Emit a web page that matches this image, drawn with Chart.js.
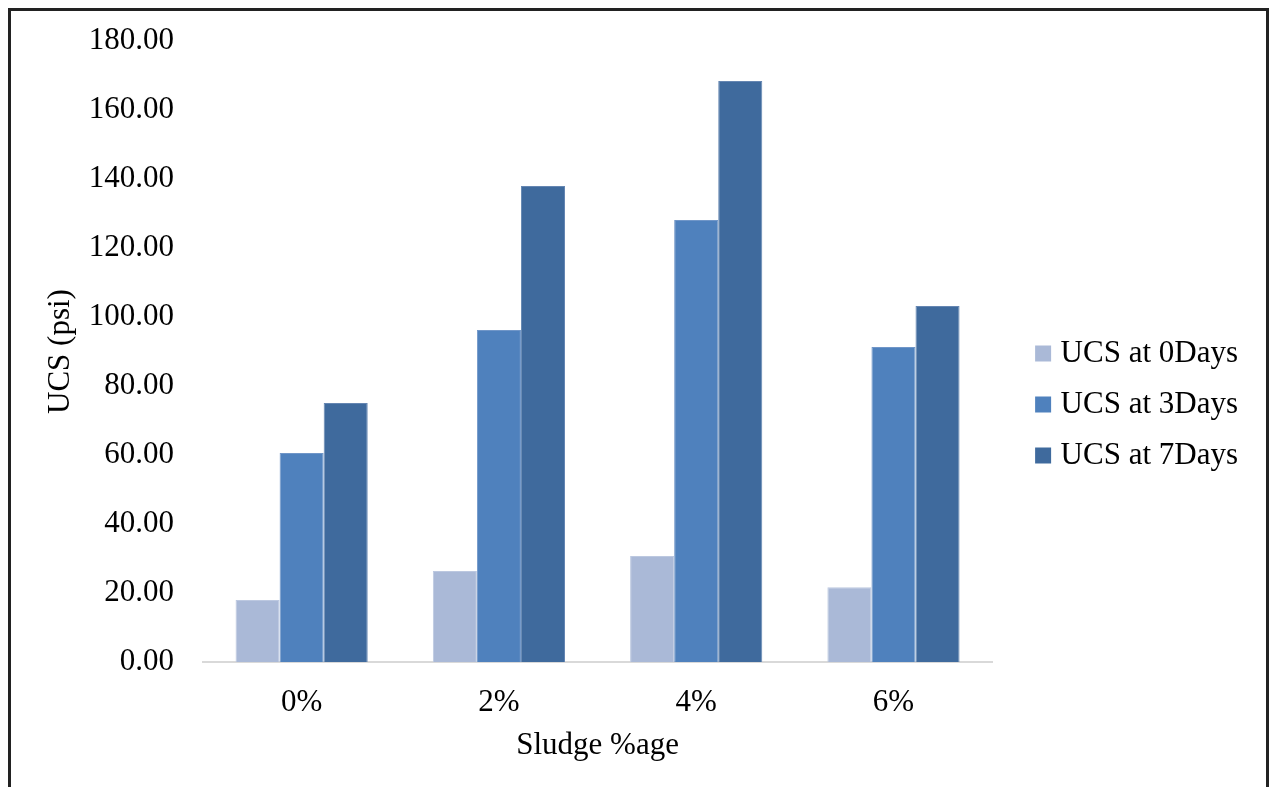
<!DOCTYPE html>
<html>
<head>
<meta charset="utf-8">
<script src="https://cdn.jsdelivr.net/npm/chart.js@4/dist/chart.umd.min.js"></script>
<style>
  html, body { margin: 0; padding: 0; background: #fff; }
  #wrap { position: relative; width: 1270px; height: 787px; overflow: hidden; }
  #frame {
    position: absolute; left: 8px; top: 8px; width: 1261px; height: 820px;
    box-sizing: border-box; border: 3px solid #222; border-bottom: none;
    pointer-events: none;
  }
  canvas { position: absolute; left: 0; top: 0; }
</style>
</head>
<body>
<div id="wrap">
  <canvas id="c" width="1270" height="787"></canvas>
  <div id="frame"></div>
</div>
<script>
// Sludge content categories
const categories = ['0%', '2%', '4%', '6%'];

// Unconfined compressive strength (psi) by curing time
const ucs0Days = [18.0, 26.4, 30.7, 21.7];
const ucs3Days = [60.6, 96.2, 128.1, 91.3];
const ucs7Days = [75.1, 138.0, 168.4, 103.2];

const seriesNames = ['UCS at 0Days', 'UCS at 3Days', 'UCS at 7Days'];

// y axis range and step
const yMin = 0;
const yMax = 180;
const yStep = 20;

const FONT = "'Liberation Serif', 'Times New Roman', serif";

new Chart(document.getElementById('c'), {
  type: 'bar',
  data: {
    labels: categories,
    datasets: [
      { label: seriesNames[0], data: ucs0Days, backgroundColor: '#AAB9D7', borderColor: '#BCC8E0', borderWidth: 1 },
      { label: seriesNames[1], data: ucs3Days, backgroundColor: '#4F81BD', borderColor: '#7096C8', borderWidth: 1 },
      { label: seriesNames[2], data: ucs7Days, backgroundColor: '#3F6A9D', borderColor: '#6586B2', borderWidth: 1 }
    ]
  },
  options: {
    responsive: false,
    animation: false,
    layout: { padding: { top: 41, left: 10, right: 22, bottom: 19 } },
    datasets: { bar: { categoryPercentage: 0.67, barPercentage: 1.0 } },
    plugins: {
      tooltip: { enabled: false },
      legend: {
        position: 'right',
        align: 'center',
        maxWidth: 320,
        labels: {
          color: '#000',
          font: { family: FONT, size: 31 },
          usePointStyle: true,
          pointStyle: 'rect',
          boxWidth: 4,
          boxHeight: 16,
          padding: 20,
          // plain filled squares for the legend keys
          generateLabels(chart) {
            return chart.data.datasets.map((ds, i) => ({
              text: ds.label,
              fillStyle: ds.backgroundColor,
              strokeStyle: ds.backgroundColor,
              lineWidth: 0,
              pointStyle: 'rect',
              hidden: !chart.isDatasetVisible(i),
              datasetIndex: i,
              fontColor: '#000'
            }));
          }
        }
      }
    },
    scales: {
      x: {
        grid: { display: false, drawTicks: false },
        border: { display: true, color: '#D9D9D9', width: 2 },
        ticks: { color: '#000', font: { family: FONT, size: 31 }, padding: 22 },
        title: {
          display: true, text: 'Sludge %age', color: '#000',
          font: { family: FONT, size: 31 }, padding: { top: 0, bottom: 4 }
        },
        afterFit(s) { s.height = 106; }
      },
      y: {
        position: 'left',
        min: yMin, max: yMax,
        grid: { display: false, drawTicks: false },
        border: { display: false },
        ticks: {
          stepSize: yStep, color: '#000', padding: 29,
          font: { family: FONT, size: 31 },
          callback: v => Number(v).toFixed(2)
        },
        title: {
          display: true, text: 'UCS (psi)', color: '#000',
          font: { family: FONT, size: 31 }, padding: { top: 32, bottom: 0 }
        },
        afterFit(s) { s.width = 193; s.paddingTop = 0; s.paddingBottom = 0; }
      },
      gap: {
        type: 'linear',
        position: 'right',
        display: true,
        grid: { display: false, drawTicks: false },
        border: { display: false },
        ticks: { display: false },
        afterFit(s) { s.width = 29; }
      }
    }
  }
});
</script>
</body>
</html>
